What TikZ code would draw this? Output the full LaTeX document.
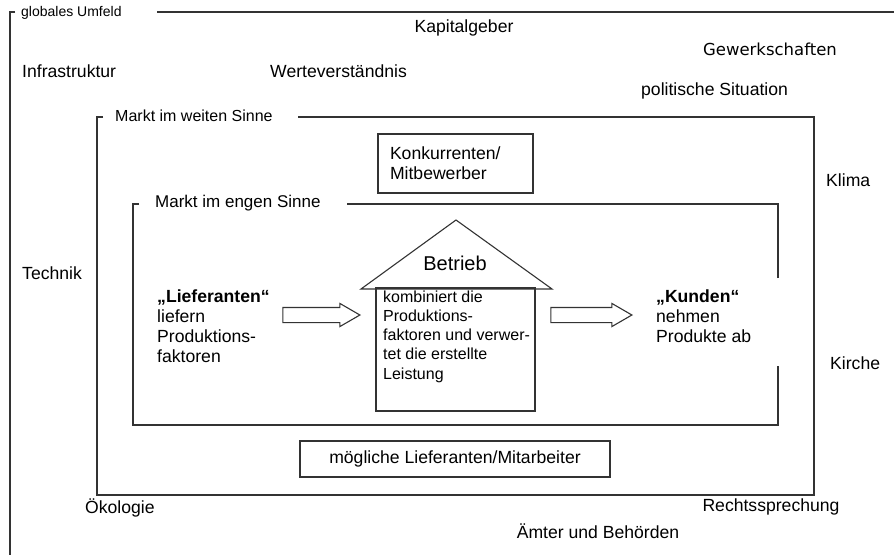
\documentclass[tikz,border=0pt]{standalone}
\usepackage{fontspec}
\setmainfont{Liberation Sans}
\newfontfamily\handfont{DejaVu Sans}
\usetikzlibrary{shapes.arrows}

\begin{document}
\begin{tikzpicture}[
        x=1pt, y=-1pt,
        every node/.style={inner sep=0pt, font=\fontsize{17.6}{20}\selectfont},
        frame/.style={line width=1.3pt, draw=black!80},
        factor/.style={anchor=center},
        leftfactor/.style={anchor=west},
        framelabel/.style={anchor=west, font=\fontsize{16}{18}\selectfont},
        actor/.style={anchor=west, align=left},
        infobox/.style={draw=black!80, line width=1.2pt, fill=white},
        blockarrow/.style={single arrow, draw=black!80, line width=1.1pt, fill=white,
            inner sep=7pt, minimum width=22pt, single arrow head extend=4pt,
            single arrow tip angle=60, anchor=tip}
    ]
        \useasboundingbox[fill=white] (0,0) rectangle (894,555);

        % globales Umfeld
        \node[framelabel, font=\fontsize{14}{17}\selectfont] (umfeld) at (21,13) {globales Umfeld};
        \draw[frame] (15,12) -- (10,12) -- (10,555);
        \draw[frame] (157,12) -- (894,12);
        \node[factor] (kapital) at (464,28) {Kapitalgeber};
        \node[factor, font=\handfont\fontsize{16.5}{19}\selectfont] (gewerk) at (770,49) {Gewerkschaften};
        \node[leftfactor] (infra) at (22,71) {Infrastruktur};
        \node[leftfactor] (werte) at (270,71) {Werteverständnis};
        \node[leftfactor] (politik) at (641,91) {politische Situation};
        \node[leftfactor] (klima) at (826,180) {Klima};
        \node[leftfactor] (technik) at (22,273) {Technik};
        \node[leftfactor] (kirche) at (830,363) {Kirche};
        \node[leftfactor] (oeko) at (85,508) {Ökologie};
        \node[factor] (recht) at (771,507) {Rechtssprechung};
        \node[factor] (aemter) at (598,531) {Ämter und Behörden};

        % Markt im weiten Sinne
        \node[framelabel] (weit) at (115,116) {Markt im weiten Sinne};
        \draw[frame] (103,117) -- (97,117) -- (97,495) -- (814,495) -- (814,117) -- (298,117);
        \node[infobox, minimum width=155pt, minimum height=59pt, text width=131pt,
            align=left] (konkurrenz) at (455.5,163.5) {Konkurrenten/\\Mitbewerber};
        \node[infobox, minimum width=310pt, minimum height=36pt] (moegliche) at (455,459)
            {mögliche Lieferanten/Mitarbeiter};

        % Markt im engen Sinne
        \node[framelabel, font=\fontsize{17}{18}\selectfont] (eng) at (155,203) {Markt im engen Sinne};
        \draw[frame] (139,204) -- (133,204) -- (133,425) -- (778,425) -- (778,366);
        \draw[frame] (778,278) -- (778,204) -- (347,204);

        % Betrieb
        \node[infobox, minimum width=159pt, minimum height=123pt] (body) at (455.5,349.5) {};
        \coordinate (roofL) at (361,289);
        \coordinate (roofR) at (552,289);
        \coordinate (apex) at (456,220);
        \draw[frame, line width=1.1pt] (roofL) -- (apex) -- (roofR) -- cycle;
        \node[factor, font=\fontsize{20}{22}\selectfont] (betrieb) at (455,263) {Betrieb};
        \node[anchor=north west, align=left, font=\fontsize{16}{19}\selectfont] (leistung)
            at (383,291) {kombiniert die\\Produktions-\\faktoren und verwer-\\tet die erstellte\\[1pt]Leistung};

        % Lieferanten und Kunden
        \node[actor] (liefer) at (157,326) {\textbf{„Lieferanten“}\\liefern\\Produktions-\\faktoren};
        \node[actor] (kunden) at (656,316) {\textbf{„Kunden“}\\nehmen\\Produkte ab};
        \node[blockarrow, minimum height=77pt] (pfeilL) at (361,315) {};
        \node[blockarrow, minimum height=81pt] (pfeilR) at (633,315) {};
    \end{tikzpicture}
\end{document}
